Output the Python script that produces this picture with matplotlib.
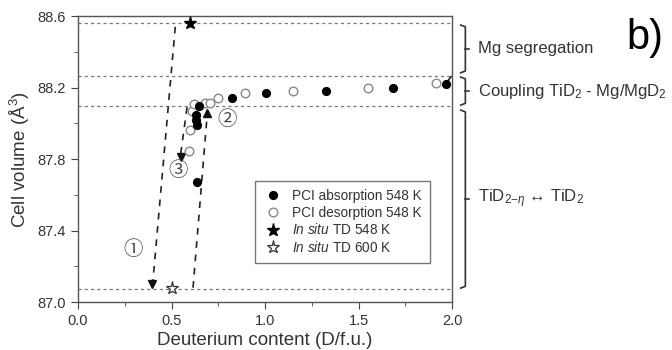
import numpy as np
import matplotlib
matplotlib.use("Agg")
import matplotlib.pyplot as plt

plt.rcParams['font.family'] = ['Liberation Sans', 'Noto Sans CJK SC', 'DejaVu Sans']
plt.rcParams['mathtext.fontset'] = 'custom'
plt.rcParams['mathtext.rm'] = 'Liberation Sans'
plt.rcParams['mathtext.it'] = 'Liberation Sans:italic'

txt = '#333333'

# PCI absorption 548 K (filled circles)
abs_x = [0.636, 0.636, 0.631, 0.631, 0.649, 0.825, 1.005, 1.326, 1.684, 1.964]
abs_y = [87.673, 87.99, 88.018, 88.046, 88.096, 88.144, 88.169, 88.182, 88.196, 88.22]

# PCI desorption 548 K (open circles)
des_x = [0.591, 0.597, 0.610, 0.622, 0.677, 0.704, 0.75, 0.895, 1.15, 1.549, 1.914]
des_y = [87.845, 87.962, 88.07, 88.108, 88.115, 88.112, 88.141, 88.168, 88.182, 88.199, 88.227]

# in situ TD
td548_x, td548_y = [0.60], [88.559]
td600_x, td600_y = [0.504], [87.076]

# horizontal reference levels
levels = [88.559, 88.266, 88.097, 87.073]

# dashed paths (start, end) and arrow heads
paths = [((0.52, 88.54), (0.40, 87.11)),
         ((0.615, 87.08), (0.69, 88.04)),
         ((0.583, 88.09), (0.549, 87.83)),
         ((1.975, 88.235), (2.0, 88.27))]
down_tri = ([0.397, 0.549], [87.10, 87.813])
up_tri = ([0.691], [88.06])

steps = ['①', '②', '③']
steps_x = [0.297, 0.797, 0.533]
steps_y = [87.295, 88.018, 87.733]

regions = ['Mg segregation', r'Coupling TiD$_2$ - Mg/MgD$_2$', r'TiD$_{2\mathrm{-}\eta}$ ↔ TiD$_2$']
region_lo = [88.283, 88.102, 87.078]
region_hi = [88.55, 88.259, 88.074]

fig = plt.figure(figsize=(6.72, 3.5), dpi=100)
ax = fig.add_axes([0.116, 0.137, 0.557, 0.817])

for lv in levels:
    ax.axhline(lv, color='#777777', lw=0.9, dashes=(2.5, 2.5), zorder=1)

for (x0, y0), (x1, y1) in paths:
    ax.plot([x0, x1], [y0, y1], color='#222222', lw=1.2, dashes=(4, 4), zorder=2)
ax.plot(*down_tri, 'v', color='#111111', ms=5.5, zorder=3)
ax.plot(*up_tri, '^', color='#111111', ms=5.5, zorder=3)

ax.plot(des_x, des_y, 'o', mfc='white', mec='#888888', mew=1.0, ms=6.2, ls='none',
        label='PCI desorption 548 K', zorder=4)
ax.plot(abs_x, abs_y, 'o', color='black', ms=5.6, ls='none',
        label='PCI absorption 548 K', zorder=5)
ax.plot(td548_x, td548_y, '*', color='black', ms=9.5, ls='none',
        label=r'$\it{In\ situ}$ TD 548 K', zorder=5)
ax.plot(td600_x, td600_y, '*', mfc='white', mec='#333333', mew=0.9, ms=9.5, ls='none',
        label=r'$\it{In\ situ}$ TD 600 K', zorder=5)

for s, x, y in zip(steps, steps_x, steps_y):
    ax.text(x, y, s, fontsize=14, color='#444444', ha='center', va='center')

ax.set_xlim(0, 2.0)
ax.set_ylim(87.0, 88.6)
ax.set_xticks([0.0, 0.5, 1.0, 1.5, 2.0])
ax.set_yticks([87.0, 87.4, 87.8, 88.2, 88.6])
ax.set_xticks(np.arange(0, 2.01, 0.25), minor=True)
ax.set_yticks(np.arange(87.0, 88.61, 0.2), minor=True)
ax.tick_params(which='both', direction='out', colors='#444444', labelsize=10.5, labelcolor=txt)
ax.tick_params(which='major', length=5)
ax.tick_params(which='minor', length=3)
for sp in ax.spines.values():
    sp.set_color('#555555')
    sp.set_linewidth(1.0)

ax.set_xlabel('Deuterium content (D/f.u.)', fontsize=13.5, color=txt, labelpad=3)
ax.set_ylabel('Cell volume (Å$^3$)', fontsize=13.5, color=txt, labelpad=4)

h, l = ax.get_legend_handles_labels()
order = [1, 0, 2, 3]
leg = ax.legend([h[i] for i in order], [l[i] for i in order], loc='lower left',
                bbox_to_anchor=(0.455, 0.112), fontsize=9.8, fancybox=False,
                edgecolor='#777777', framealpha=1, handletextpad=0.6, borderpad=0.6,
                labelspacing=0.2, handlelength=1.5)
for t in leg.get_texts():
    t.set_color(txt)

# braces on the right
bx = 2.07
for name, lo, hi in zip(regions, region_lo, region_hi):
    mid = (lo + hi) / 2
    ax.plot([2.045, bx, bx, 2.045], [hi, hi - 0.01, lo + 0.01, lo], color='#333333',
            lw=1.2, clip_on=False)
    ax.plot([bx, 2.09], [mid, mid], color='#333333', lw=1.2, clip_on=False)
    ax.text(2.14, mid, name, fontsize=12, color=txt, ha='left', va='center', clip_on=False)

fig.text(0.96, 0.89, 'b)', fontsize=30, color='black', ha='center', va='center')

fig.savefig('out.png', dpi=100)
